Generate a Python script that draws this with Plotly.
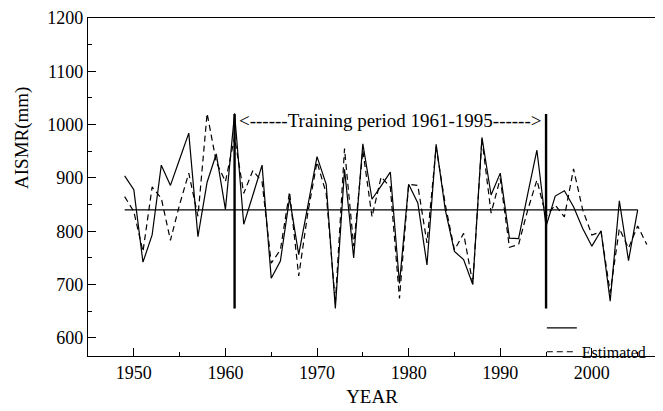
import plotly.graph_objects as go

# ---- data ----
years_obs = list(range(1949, 2006))
observed = [904, 878, 742, 793, 924, 886, 935, 984, 790, 892,
            945, 841, 1021, 813, 868, 924, 712, 744, 862, 756,
            848, 940, 888, 655, 916, 750, 964, 860, 885, 911,
            702, 888, 853, 737, 963, 840, 762, 747, 700, 976,
            868, 909, 787, 786, 870, 952, 809, 866, 876, 846,
            805, 772, 801, 669, 857, 745, 840]

years_est = list(range(1949, 2007))
estimated = [865, 837, 762, 883, 862, 783, 850, 909, 828, 1021,
             930, 893, 976, 871, 914, 893, 740, 765, 874, 716,
             835, 930, 871, 666, 955, 772, 952, 827, 902, 883,
             674, 888, 886, 778, 958, 850, 765, 796, 702, 973,
             834, 899, 770, 775, 840, 896, 828, 849, 827, 917,
             840, 793, 799, 685, 805, 768, 810, 775]

mean_years = [1949, 2005]
mean_value = 840

training_years = [1961, 1995]
training_span = [655, 1020]
training_label = "<------Training period 1961-1995------>"

x_ticks = [1950, 1960, 1970, 1980, 1990, 2000]
y_ticks = [600, 700, 800, 900, 1000, 1100, 1200]

FONT = "Liberation Serif, Times New Roman, DejaVu Serif, serif"

fig = go.Figure()

fig.add_trace(go.Scatter(x=years_obs, y=observed, mode="lines", name=" ",
                         line=dict(color="black", width=1.2)))
fig.add_trace(go.Scatter(x=years_est, y=estimated, mode="lines", name="Estimated",
                         line=dict(color="black", width=1.2, dash="6px,4px")))
fig.add_trace(go.Scatter(x=mean_years, y=[mean_value] * len(mean_years), mode="lines",
                         line=dict(color="black", width=1.2), showlegend=False))
for ty in training_years:
    fig.add_trace(go.Scatter(x=[ty, ty], y=training_span, mode="lines",
                             line=dict(color="black", width=2.4), showlegend=False))

fig.add_annotation(x=sum(training_years) / 2, y=1008, text=training_label,
                   showarrow=False, font=dict(family=FONT, size=19, color="black"))

# y-axis title
fig.add_annotation(xref="paper", x=0, xshift=-66, y=975, text="AISMR(mm)",
                   textangle=-90, showarrow=False, xanchor="center", yanchor="middle",
                   font=dict(family=FONT, size=19, color="black"))

fig.update_layout(
    width=663, height=411,
    margin=dict(l=80, r=15, t=10, b=63, autoexpand=False),
    paper_bgcolor="white", plot_bgcolor="white",
    font=dict(family=FONT, size=17, color="black"),
    legend=dict(x=0.799, y=0.133, xanchor="left", yanchor="top",
                bgcolor="rgba(0,0,0,0)", font=dict(family=FONT, size=16),
                tracegroupgap=0),
    showlegend=True,
)
fig.update_xaxes(range=[1945, 2007], tickvals=x_ticks, ticks="inside", ticklen=8,
                 tickcolor="black", showline=True, linecolor="black", linewidth=1.3,
                 mirror=True, showgrid=False, zeroline=False, automargin=False,
                 ticklabeloverflow="allow",
                 minor=dict(dtick=5, tick0=1945, ticks="inside", ticklen=4, tickcolor="black"),
                 title=dict(text="YEAR", standoff=7, font=dict(family=FONT, size=19)),
                 tickfont=dict(family=FONT, size=18))
fig.update_yaxes(range=[566, 1200], tickvals=y_ticks, ticks="inside", ticklen=8,
                 tickcolor="black", showline=True, linecolor="black", linewidth=1.3,
                 mirror=True, showgrid=False, zeroline=False, automargin=False,
                 ticklabeloverflow="allow",
                 minor=dict(dtick=50, tick0=550, ticks="inside", ticklen=4, tickcolor="black"),
                 tickfont=dict(family=FONT, size=18))

fig.write_html("out.html")
